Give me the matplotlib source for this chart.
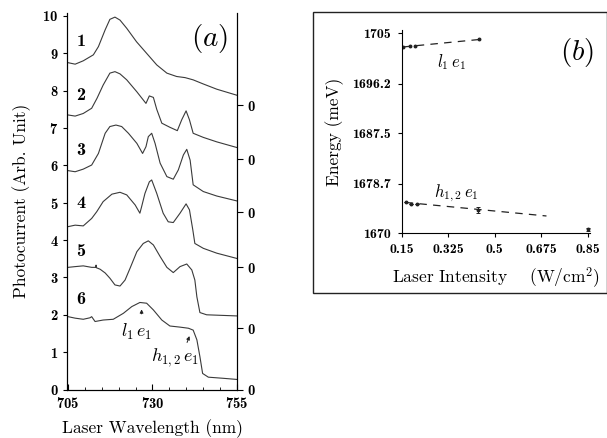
# coding: utf-8

import matplotlib
matplotlib.use('Agg')
import matplotlib.pyplot as plt
from matplotlib.patches import Rectangle

plt.rcParams['font.family'] = 'cmb10'
plt.rcParams['mathtext.fontset'] = 'cm'
plt.rcParams['axes.formatter.use_mathtext'] = True

# panel (a): photocurrent spectra, wavelength (nm) / offset signal
wl1 = [705, 707.1, 709.5, 712.5, 714.0, 716.0, 717.4, 718.9, 720.4, 722.4, 725.3, 728.3,
       731.3, 734.3, 737.2, 739.7, 742.1, 745.1, 749.1, 755]
pc1 = [8.75, 8.71, 8.80, 8.96, 9.18, 9.63, 9.91, 9.97, 9.89, 9.67, 9.31, 9.00,
       8.69, 8.47, 8.38, 8.35, 8.29, 8.18, 8.04, 7.88]

wl2 = [705, 707.1, 709.5, 712.0, 713.6, 715.4, 717.4, 718.9, 720.4, 722.4, 725.4, 728.1,
       729.1, 730.3, 731.3, 732.8, 735.2, 737.4, 738.7, 740.0, 741.0, 742.1, 745.1,
       749.1, 755]
pc2 = [7.35, 7.32, 7.39, 7.53, 7.80, 8.15, 8.47, 8.51, 8.45, 8.29, 7.97, 7.66,
       7.86, 7.82, 7.50, 7.13, 7.02, 6.93, 7.22, 7.46, 7.22, 6.86, 6.75,
       6.63, 6.48]

wl3 = [705, 707.1, 709.5, 712.0, 714.0, 716.0, 717.4, 719.2, 720.9, 722.9, 725.4, 727.1,
       728.1, 728.8, 729.8, 730.8, 732.3, 734.3, 736.2, 737.7, 739.2, 740.2, 741.2,
       742.1, 745.1, 749.1, 755]
pc3 = [5.86, 5.83, 5.90, 6.01, 6.32, 6.86, 7.04, 7.08, 7.04, 6.86, 6.59, 6.32,
       6.50, 6.77, 6.86, 6.59, 6.06, 5.70, 5.63, 5.88, 6.28, 6.43, 6.14,
       5.48, 5.30, 5.18, 5.05]

wl4 = [705, 707.1, 709.5, 712.0, 713.5, 715.4, 718.0, 720.4, 722.4, 724.9, 726.3, 726.8,
       727.8, 729.1, 729.8, 731.3, 733.2, 734.7, 736.2, 738.2, 740.0, 741.0, 742.0,
       742.6, 745.1, 749.1, 755]
pc4 = [4.36, 4.40, 4.38, 4.58, 4.76, 5.03, 5.23, 5.28, 5.21, 4.94, 4.72, 4.89,
       5.25, 5.56, 5.61, 5.25, 4.72, 4.49, 4.47, 4.72, 4.97, 4.81, 4.27,
       3.91, 3.78, 3.65, 3.51]

wl5 = [705, 707.1, 709.5, 712.0, 713.2, 713.3, 713.4, 714.5, 716.0, 717.4, 718.9, 720.4,
       721.9, 723.4, 725.4, 727.3, 728.8, 730.3, 732.3, 734.3, 736.2, 738.2, 740.2,
       741.7, 742.6, 743.2, 744.1, 746.1, 755]
pc5 = [3.27, 3.29, 3.31, 3.27, 3.27, 3.33, 3.26, 3.22, 3.12, 2.98, 2.80, 2.77,
       2.93, 3.25, 3.69, 3.91, 3.98, 3.87, 3.56, 3.27, 3.13, 3.29, 3.36,
       3.20, 2.93, 2.48, 2.06, 2.00, 1.97]

wl6 = [705, 707.1, 709.5, 711.5, 712.0, 713.0, 715.4, 718.4, 721.4, 723.9, 726.3, 728.3,
       730.3, 732.8, 735.2, 738.2, 740.7, 742.1, 743.2, 744.1, 744.9, 746.6, 751.0, 755]
pc6 = [1.95, 1.91, 1.88, 1.92, 1.95, 1.82, 1.86, 1.88, 2.04, 2.22, 2.33, 2.31,
       2.13, 1.86, 1.70, 1.67, 1.64, 1.59, 1.33, 0.88, 0.43, 0.33, 0.30, 0.27]

curves = [(wl1, pc1), (wl2, pc2), (wl3, pc3), (wl4, pc4), (wl5, pc5), (wl6, pc6)]
curve_names = ['1', '2', '3', '4', '5', '6']
name_y = [9.31, 7.86, 6.41, 4.98, 3.69, 2.41]
zero_levels = [7.61, 6.17, 4.75, 3.27, 1.64, 0.0]

# panel (b): peak energies vs laser intensity
int_l1 = [0.155, 0.18, 0.199, 0.44]
en_l1 = [1702.55, 1702.8, 1702.8, 1703.95]
fit_l1_x = [0.155, 0.44]
fit_l1_y = [1702.6, 1703.9]

int_h12 = [0.165, 0.186, 0.208, 0.437, 0.851]
en_h12 = [1675.53, 1675.13, 1675.13, 1674.08, 1670.7]
err_h12 = [0, 0, 0, 0.6, 0.3]
fit_h12_x = [0.165, 0.695]
fit_h12_y = [1675.4, 1673.03]

b_xticks = [0.15, 0.325, 0.5, 0.675, 0.85]
b_xlabels = ['0.15', '0.325', '0.5', '0.675', '0.85']
b_yticks = [1670, 1678.7, 1687.5, 1696.2, 1705]
b_ylabels = ['1670', '1678.7', '1687.5', '1696.2', '1705']

fig = plt.figure(figsize=(6.07, 4.38), dpi=100)

# ---- panel (a) ----
ax = fig.add_axes([67.4 / 607, 1 - 389.5 / 438, (237 - 67.4) / 607, (389.5 - 13) / 438])
for wl, pc in curves:
    ax.plot(wl, pc, color='#3a3a3a', lw=0.8)
for name, ny in zip(curve_names, name_y):
    ax.text(708.8, ny, name, fontsize=13, ha='center', va='center')
ax.text(747, 9.4, '$(a)$', fontsize=21, ha='center', va='center')

ax.annotate('', xy=(726.8, 2.22), xytext=(726.8, 1.95),
            arrowprops=dict(arrowstyle='-|>', color='#222', lw=0.7, mutation_scale=5))
ax.text(725.4, 1.55, r'$l_1\,e_1$', fontsize=13, ha='center', va='center')
ax.annotate('', xy=(741.3, 1.50), xytext=(740.0, 1.19),
            arrowprops=dict(arrowstyle='-|>', color='#222', lw=0.7, mutation_scale=5))
ax.text(736.7, 0.86, r'$h_{1,2}\,e_1$', fontsize=13, ha='center', va='center')

ax.set_xlim(704.8, 755.1)
ax.set_ylim(0, 10.08)
ax.set_xticks([705, 730, 755])
ax.set_xticks(range(710, 755, 5), minor=True)
ax.set_yticks(range(0, 11))
ax.tick_params(axis='y', direction='out', length=3, labelsize=10.5, width=0.8)
ax.tick_params(axis='x', which='major', direction='in', length=4, labelsize=10.5,
               width=0.8, pad=5)
ax.tick_params(axis='x', which='minor', direction='in', length=2, width=0.6)
ax.spines['top'].set_visible(False)
ax.set_xlabel('Laser Wavelength (nm)', fontfamily='cmr10', fontsize=12.5, labelpad=6)
ax.set_ylabel('Photocurrent (Arb. Unit)', fontfamily='cmr10', fontsize=12.5, labelpad=8)

axr = ax.twinx()
axr.set_ylim(ax.get_ylim())
axr.set_yticks(zero_levels)
axr.set_yticklabels(['0'] * len(zero_levels))
axr.tick_params(axis='y', direction='out', length=4, labelsize=10.5, width=0.8)
axr.spines['top'].set_visible(False)

# ---- panel (b) ----
fig.patches.append(Rectangle((313 / 607, 1 - 293 / 438), 294 / 607, 281 / 438,
                             transform=fig.transFigure, fill=False, lw=1.0,
                             edgecolor='#222'))

bx = fig.add_axes([401.7 / 607, 1 - 233.3 / 438, 188.6 / 607, 202.9 / 438])
bx.plot(fit_l1_x, fit_l1_y, color='#222', lw=0.9, dashes=(6, 5))
bx.plot(fit_h12_x, fit_h12_y, color='#222', lw=0.9, dashes=(6, 5))
bx.plot(int_l1, en_l1, 'o', color='#222', ms=1.8)
bx.errorbar(int_h12, en_h12, yerr=err_h12, fmt='o', color='#222', ms=1.8,
            elinewidth=0.7, capsize=1.5, capthick=0.7)
bx.text(0.337, 1700.0, r'$l_1\,e_1$', fontsize=12, ha='center', va='center')
bx.text(0.356, 1677.0, r'$h_{1,2}\,e_1$', fontsize=12, ha='center', va='center')
bx.text(0.81, 1701.6, '$(b)$', fontsize=21, ha='center', va='center')

bx.set_xlim(0.15, 0.86)
bx.set_ylim(1670, 1705.5)
bx.set_xticks(b_xticks)
bx.set_xticklabels(b_xlabels)
bx.set_yticks(b_yticks)
bx.set_yticklabels(b_ylabels)
bx.tick_params(direction='out', length=3, labelsize=10, width=0.8, pad=5)
bx.spines['top'].set_visible(False)
bx.spines['right'].set_visible(False)
bx.set_xlabel(r'Laser Intensity    (W/cm$^{\mathrm{2}}$)', fontfamily='cmr10',
              fontsize=12.5, labelpad=6)
bx.set_ylabel('Energy (meV)', fontfamily='cmr10', fontsize=12.5, labelpad=6)

fig.savefig('out.png', dpi=100)
